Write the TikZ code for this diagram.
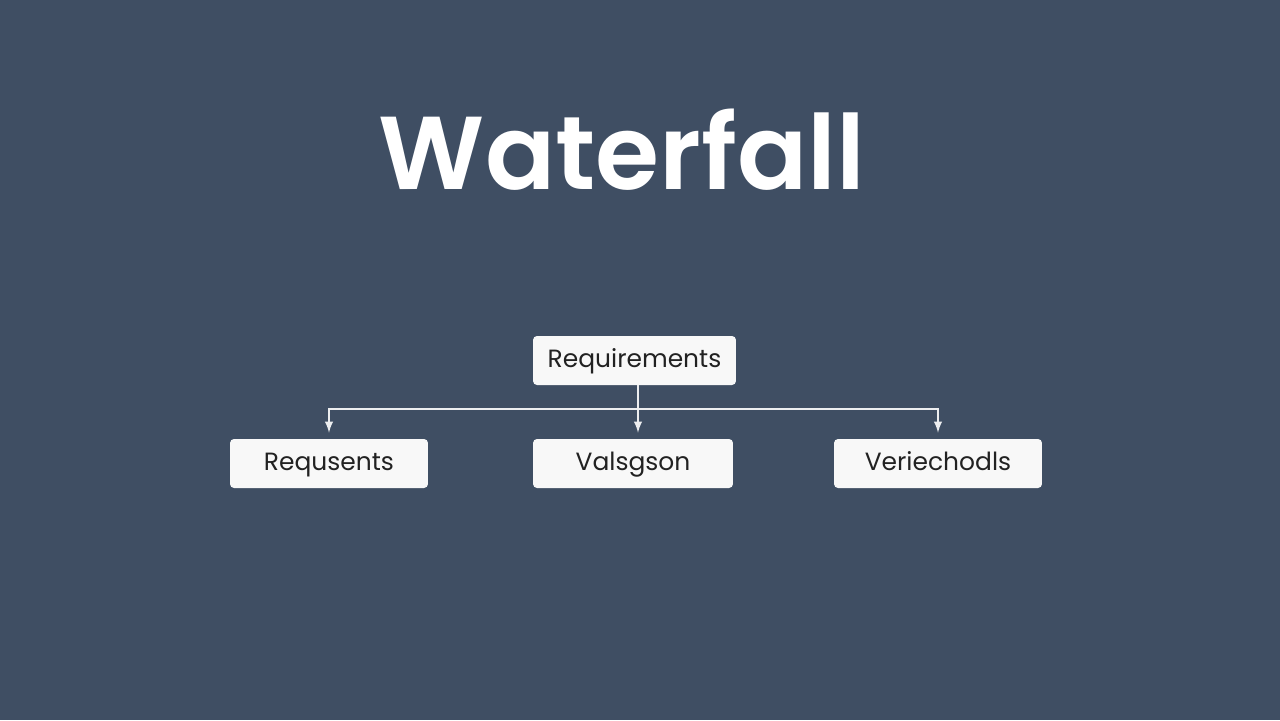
\documentclass[tikz,border=0pt]{standalone}
\usepackage{fontspec}
\setmainfont{Poppins}[BoldFont = Poppins SemiBold]
\usepackage{tikz}
\usetikzlibrary{arrows}
\definecolor{slate}{HTML}{3F4E63}
\definecolor{boxfill}{HTML}{F8F8F8}
\definecolor{ink}{HTML}{222222}
\definecolor{wire}{HTML}{EDEEF0}
\begin{document}
\begin{tikzpicture}[x=0.02cm, y=-0.02cm]
		\tikzset{phase/.style={shape = rectangle, rounded corners = 0.08cm, fill = boxfill, text = ink, minimum width = 4cm, minimum height = 0.98cm, inner sep = 0pt, text height = 0.8em, text depth = 0em, font = \fontsize{14.2}{16}\selectfont}}
		\tikzset{wire/.style={draw = wire, line width = 0.04cm, -latex}}
		%background
		\fill[slate] (0, 0) rectangle (1280, 720);
		%title
		\node[text = white, anchor = base, inner sep = 0pt, font = \fontsize{59}{64}\selectfont\bfseries] (title) at (622, 189) {Waterfall};
		%phases
		\node[phase, minimum width = 4.06cm] (req) at (634.5, 360.5) {Requirements};
		\node[phase, minimum width = 3.96cm] (reqs) at (329, 463.5) {Requsents};
		\node[phase] (val) at (633, 463.5) {Valsgson};
		\node[phase, minimum width = 4.16cm] (veri) at (938, 463.5) {Veriechodls};
		\coordinate (bus) at (638, 409);
		%edges
		\draw[wire, shorten > = 0.12cm] (req.south -| bus) -- (bus |- val.north);
		\draw[wire, shorten > = 0.12cm] (bus) -| (reqs.north);
		\draw[wire, shorten > = 0.12cm] (bus) -| (veri.north);
\end{tikzpicture}
\end{document}
